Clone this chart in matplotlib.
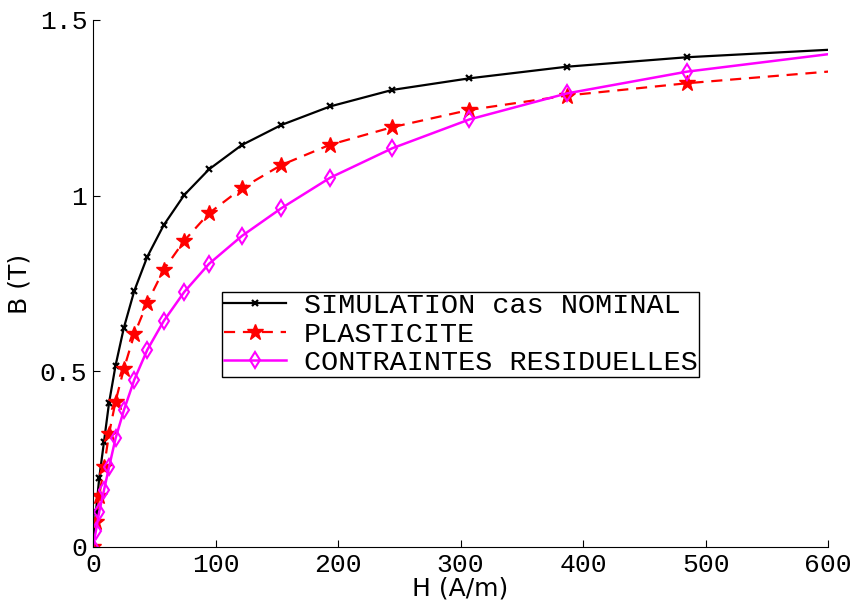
import numpy as np
import matplotlib
matplotlib.use('Agg')
import matplotlib.pyplot as plt

# Donnees (H en A/m, B en T)
H = [0, 2.4, 5.1, 9.0, 13.1, 18.4, 25.2, 33.7, 44.3, 57.7, 74.5, 94.7,
     121.4, 153.6, 193.5, 244.3, 307.2, 386.7, 484.7, 610]
B_nominal = [0, 0.10, 0.196, 0.30, 0.41, 0.516, 0.624, 0.729, 0.826, 0.916,
             1.002, 1.075, 1.144, 1.201, 1.254, 1.301, 1.334, 1.367, 1.394, 1.417]
B_plasticite = [0, 0.072, 0.146, 0.227, 0.322, 0.414, 0.507, 0.605, 0.695, 0.789,
                0.872, 0.950, 1.021, 1.087, 1.145, 1.195, 1.244, 1.285, 1.320, 1.356]
B_residuelles = [0, 0.046, 0.100, 0.162, 0.227, 0.309, 0.389, 0.476, 0.561, 0.643,
                 0.726, 0.806, 0.885, 0.964, 1.051, 1.135, 1.217, 1.291, 1.353, 1.407]

labels = ['SIMULATION cas NOMINAL', 'PLASTICITE', 'CONTRAINTES RESIDUELLES']
xticks = [0, 100, 200, 300, 400, 500, 600]
yticks = [0, 0.5, 1, 1.5]
yticklabels = ['0', '0.5', '1', '1.5']

mono = 'Liberation Mono'

fig = plt.figure(figsize=(8.53, 6.06), dpi=100)
ax = fig.add_axes([0.109, 0.0974, 0.862, 0.8696])

ax.plot(H, B_nominal, color='black', lw=1.6, marker='x', ms=4, mew=1.6,
        label=labels[0])
ax.plot(H, B_plasticite, color='red', lw=1.6, ls=(0, (5, 3.5)), marker='*', ms=12,
        mfc='red', mec='red', label=labels[1])
ax.plot(H, B_residuelles, color='magenta', lw=1.8, marker='d', ms=8, mfc='none',
        mew=1.5, label=labels[2])

ax.set_xlim(0, 600)
ax.set_ylim(0, 1.5)
ax.spines['top'].set_visible(False)
ax.spines['right'].set_visible(False)
ax.set_xticks(xticks)
ax.set_yticks(yticks)
ax.set_yticklabels(yticklabels)
ax.tick_params(direction='in', length=5, width=0.8, labelsize=19, pad=4)
for t in ax.get_xticklabels() + ax.get_yticklabels():
    t.set_fontfamily(mono)

ax.set_xlabel('H (A/m)', fontsize=18, labelpad=0)
ax.set_ylabel('B (T)', fontsize=18, labelpad=6)

leg = ax.legend(loc='upper left', bbox_to_anchor=(0.176, 0.484), fancybox=False,
                edgecolor='black', framealpha=1, prop={'family': mono, 'size': 20.5},
                handlelength=2.2, labelspacing=0.08, borderpad=0.05, handletextpad=0.6,
                borderaxespad=0)
leg.get_frame().set_linewidth(1.0)

fig.savefig('out.png', dpi=100)
